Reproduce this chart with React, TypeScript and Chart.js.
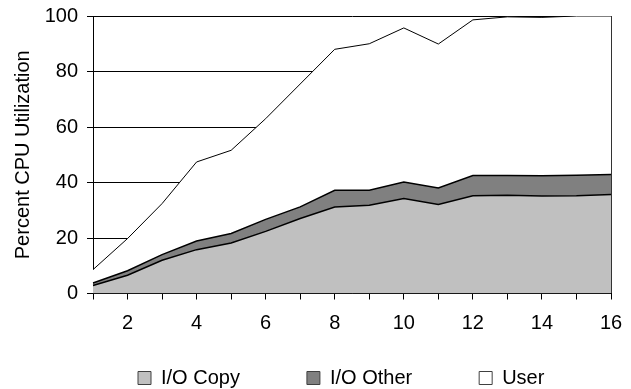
import { useEffect, useRef } from 'react';
import { Chart, registerables } from 'chart.js';

Chart.register(...registerables);

const categories = ['1', '2', '3', '4', '5', '6', '7', '8', '9', '10', '11', '12', '13', '14', '15', '16'];
const ioCopy = [2.9, 6.6, 12.0, 15.8, 18.2, 22.4, 27.0, 31.2, 31.8, 34.2, 32.1, 35.2, 35.4, 35.1, 35.2, 35.7];
const ioOther = [0.9, 1.6, 2.0, 3.1, 3.4, 4.3, 4.2, 6.0, 5.4, 6.0, 5.9, 7.3, 7.1, 7.3, 7.4, 7.2];
const user = [4.8, 11.6, 18.4, 28.5, 30.0, 36.3, 44.3, 50.8, 52.8, 55.5, 51.9, 56.1, 57.2, 57.1, 57.4, 57.1];
const seriesNames = ['I/O Copy', 'I/O Other', 'User'];
const yTitle = 'Percent CPU Utilization';

const FAMILY = '"Liberation Sans", Arial, sans-serif';
const FONT = { family: FAMILY, size: 20 };

const legendPlace = {
  id: 'legendPlace',
  afterLayout(chart: any) {
    const lg = chart.legend;
    if (!lg) return;
    lg.left = 71;
    lg.right = 631;
    lg.width = lg.right - lg.left;
    lg.top = 301;
    lg.bottom = 389;
    lg.height = lg.bottom - lg.top;
  },
};

export default function App() {
  const ref = useRef<HTMLCanvasElement | null>(null);

  useEffect(() => {
    if (!ref.current) return;
    Chart.defaults.font.family = FAMILY;
    const chart = new Chart(ref.current, {
      type: 'line',
      data: {
        labels: categories,
        datasets: [
          {
            label: seriesNames[0],
            data: ioCopy,
            fill: 'origin',
            backgroundColor: '#C0C0C0',
            borderColor: '#000000',
            borderWidth: 1.5,
            pointRadius: 0,
            tension: 0,
          },
          {
            label: seriesNames[1],
            data: ioOther,
            fill: '-1',
            backgroundColor: '#808080',
            borderColor: '#000000',
            borderWidth: 1.5,
            pointRadius: 0,
            tension: 0,
          },
          {
            label: seriesNames[2],
            data: user,
            fill: '-1',
            backgroundColor: '#FFFFFF',
            borderColor: '#000000',
            borderWidth: 1,
            pointRadius: 0,
            tension: 0,
          },
        ],
      },
      options: {
        responsive: false,
        animation: false,
        layout: { padding: { top: 16, right: 20, left: 0, bottom: 0 } },
        plugins: {
          tooltip: { enabled: false },
          legend: {
            position: 'bottom',
            align: 'start',
            maxHeight: 55.5,
            labels: {
              font: FONT,
              color: '#000',
              boxWidth: 13,
              boxHeight: 13,
              padding: 67,
              generateLabels: (c: any) =>
                (Chart.defaults.plugins.legend.labels as any)
                  .generateLabels(c)
                  .map((l: any) => ({ ...l, strokeStyle: '#404040', lineWidth: 1 })),
            },
          },
        },
        scales: {
          x: {
            type: 'category',
            offset: false,
            z: 1,
            grid: {
              color: (c: any) => (c.index === 0 ? '#000' : c.index === 15 ? '#333' : 'rgba(0,0,0,0)'),
              tickColor: '#000',
              tickLength: 6,
              lineWidth: 1,
            },
            border: { color: '#000', width: 1 },
            ticks: {
              autoSkip: false,
              maxRotation: 0,
              font: FONT,
              color: '#000',
              padding: 12,
              callback: (_v: any, i: number) => (i % 2 === 1 ? categories[i] : ''),
            },
            afterFit: (s: any) => {
              s.height = 40;
              s.paddingLeft = 0;
              s.paddingRight = 0;
            },
          },
          y: {
            stacked: true,
            min: 0,
            max: 100,
            ticks: { stepSize: 20, font: FONT, color: '#000', padding: 9 },
            grid: { color: '#000', tickColor: '#000', tickLength: 6, lineWidth: 1 },
            border: { color: '#000', width: 1 },
            title: {
              display: true,
              text: yTitle,
              font: FONT,
              color: '#000',
              padding: { top: 11, bottom: 0 },
            },
            afterFit: (s: any) => {
              s.width = 93;
              s.paddingTop = 0;
              s.paddingBottom = 0;
            },
          },
        },
      } as any,
      plugins: [legendPlace],
    });
    return () => chart.destroy();
  }, []);

  return (
    <div style={{ position: 'absolute', left: 0, top: 0, width: 631, height: 389, background: '#fff' }}>
      <canvas ref={ref} width={631} height={389} style={{ display: 'block' }} />
    </div>
  );
}
